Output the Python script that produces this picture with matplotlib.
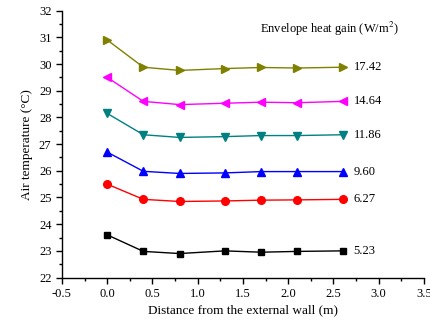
import numpy as np
import matplotlib
matplotlib.use("Agg")
import matplotlib.pyplot as plt
from matplotlib.ticker import MultipleLocator

plt.rcParams['font.family'] = ['Liberation Serif', 'DejaVu Serif']
plt.rcParams['mathtext.fontset'] = 'stix'

# distance from the external wall (m)
distance = [0.0, 0.4, 0.8, 1.3, 1.7, 2.1, 2.6]

# air temperature for each envelope heat gain (W/m2)
t_523 = [23.6, 22.98, 22.9, 23.0, 22.95, 22.98, 23.0]
t_627 = [25.5, 24.93, 24.85, 24.87, 24.9, 24.91, 24.93]
t_960 = [26.7, 25.98, 25.9, 25.92, 25.97, 25.97, 25.97]
t_1186 = [28.15, 27.35, 27.25, 27.28, 27.32, 27.32, 27.35]
t_1464 = [29.5, 28.6, 28.48, 28.53, 28.57, 28.55, 28.6]
t_1742 = [30.9, 29.88, 29.76, 29.83, 29.87, 29.85, 29.88]

gain_labels = ["5.23", "6.27", "9.60", "11.86", "14.64", "17.42"]
series = [t_523, t_627, t_960, t_1186, t_1464, t_1742]
colors = ["black", "#FF0000", "#0000FF", "#008080", "#FF00FF", "#808000"]
markers = ["s", "o", "^", "v", "<", ">"]
msizes = [5, 5.5, 6, 6, 6, 6]

fig = plt.figure(figsize=(4.3, 3.22), dpi=100)
ax = fig.add_axes([0.144, 0.138, 0.842, 0.829])

for y, c, m, ms, lab in zip(series, colors, markers, msizes, gain_labels):
    ax.plot(distance, y, color=c, marker=m, markersize=ms, linewidth=1.0)
    ax.annotate(lab, (distance[-1], y[-1]), xytext=(8, 0), textcoords='offset points',
                va='center', ha='left', fontsize=9)

ax.text(0.93, 0.93, "Envelope heat gain (W/m$^2$)", transform=ax.transAxes,
        ha='right', va='center', fontsize=9)

ax.set_xlim(-0.5, 3.5)
ax.set_ylim(22, 32)
ax.xaxis.set_major_locator(MultipleLocator(0.5))
ax.xaxis.set_minor_locator(MultipleLocator(0.25))
ax.yaxis.set_major_locator(MultipleLocator(1))
ax.yaxis.set_minor_locator(MultipleLocator(0.5))
ax.xaxis.set_major_formatter(matplotlib.ticker.FormatStrFormatter('%.1f'))
ax.tick_params(which='major', direction='out', length=4, width=1, labelsize=9)
ax.tick_params(which='minor', direction='out', length=2.5, width=1)
ax.spines['top'].set_visible(False)
ax.spines['right'].set_visible(False)
for s in ['left', 'bottom']:
    ax.spines[s].set_linewidth(1.0)

ax.set_xlabel("Distance from the external wall (m)", fontsize=9.5, labelpad=3)
ax.set_ylabel("Air temperature (\u00b0C)", fontsize=9.5, labelpad=4)

fig.savefig("out.png", dpi=100)
